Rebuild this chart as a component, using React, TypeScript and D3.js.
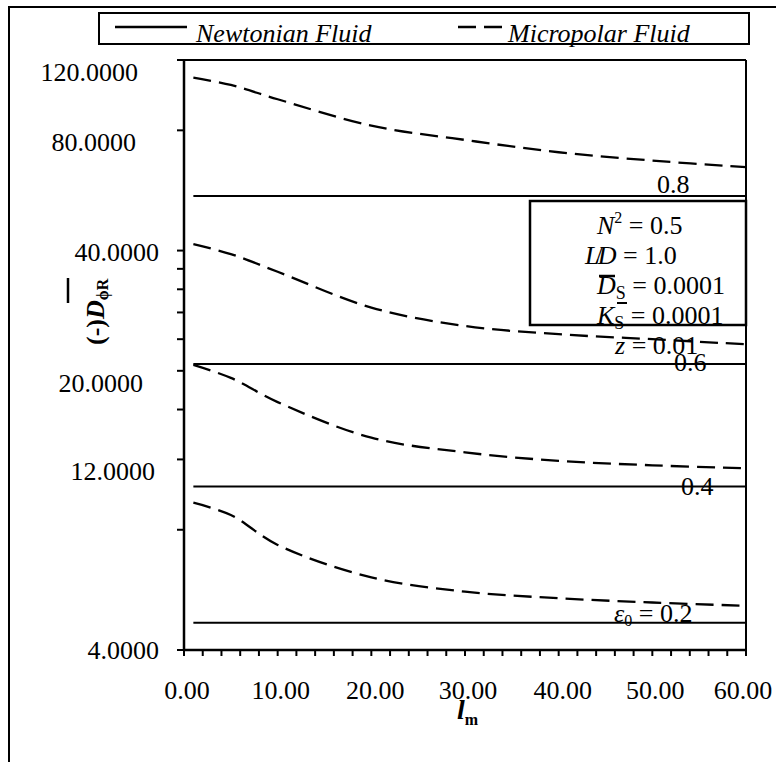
import React from "react";
import * as d3 from "d3";

// ---- data ----
const lm = [1, 5, 10, 20, 30, 40, 50, 60];
const eccentricities = [0.8, 0.6, 0.4, 0.2];
const newtonian = [54.8, 20.8, 10.26, 4.68];
const micropolar08 = [108.4, 103.9, 95.7, 82.2, 75.7, 70.5, 67.2, 64.7];
const micropolar06 = [41.5, 39.2, 35.4, 28.8, 25.9, 24.7, 24.0, 23.3];
const micropolar04 = [20.7, 19.2, 16.7, 13.6, 12.5, 11.9, 11.6, 11.4];
const micropolar02 = [9.35, 8.71, 7.33, 6.08, 5.6, 5.39, 5.26, 5.16];
const micropolar = [micropolar08, micropolar06, micropolar04, micropolar02];
const yTickValues = [4, 8, 12, 16, 20, 24, 28, 32, 36, 40, 80, 120];
const yLabelValues = [120, 80, 40, 20, 12, 4];
const xTickValues = d3.range(0, 61, 2);
const xLabelValues = [0, 10, 20, 30, 40, 50, 60];

// ---- layout / style ----
const W = 776;
const H = 762;
const L = 184, R = 746, T = 60, B = 650;
const FONT = '"Liberation Serif", "Times New Roman", Times, serif';
const FS = 26;
const SUB = 16;
// label nudges (right edge, vertical offset from tick)
const yLabelRight = [138, 136, 159, 143, 155, 159];
const yLabelDy = [12, 12, 1, 12, 12, 0];
const xLabelDx = [3, 3, 4, 3, 4, 3, -3];
const curveLabelPos = [
  { x: 657, dy: -3 },
  { x: 674, dy: 7 },
  { x: 681, dy: 8 },
  { x: 614, dy: -1 },
];

export default function App() {
  const x = d3.scaleLinear().domain([0, 60]).range([L, R]);
  const y = d3.scaleLog().domain([4, 120]).range([B, T]);
  const line = d3
    .line<number>()
    .x((_, i) => x(lm[i]))
    .y((d) => y(d))
    .curve(d3.curveCatmullRom.alpha(0.5));

  return (
    <svg
      width={W}
      height={H}
      style={{ position: "absolute", left: 0, top: 0, background: "#fff", fontFamily: FONT }}
    >
      <g style={{ fontFamily: FONT }}>
        <rect x={0} y={0} width={W} height={H} fill="#fff" />
        {/* outer frame */}
        <rect x={9} y={7} width={900} height={900} fill="none" stroke="#000" strokeWidth={2} />

        {/* legend */}
        <rect x={99} y={13} width={650} height={31} fill="#fff" stroke="#000" strokeWidth={2} />
        <line x1={115} x2={187} y1={27} y2={27} stroke="#000" strokeWidth={2.5} />
        <text x={196} y={42} fontSize={FS} fontStyle="italic">Newtonian Fluid</text>
        <line x1={458} x2={505} y1={27} y2={27} stroke="#000" strokeWidth={2.5} strokeDasharray="18 8" />
        <text x={508} y={42} fontSize={FS} fontStyle="italic">Micropolar Fluid</text>

        {/* newtonian lines */}
        {newtonian.map((v, i) => (
          <line key={"n" + i} x1={x(lm[0])} x2={x(lm[lm.length - 1])} y1={y(v)} y2={y(v)} stroke="#000" strokeWidth={2} />
        ))}
        {/* micropolar curves */}
        {micropolar.map((s, i) => (
          <path key={"m" + i} d={line(s) || ""} fill="none" stroke="#000" strokeWidth={2.3} strokeDasharray="18 8" />
        ))}

        {/* plot frame */}
        <line x1={L} x2={R} y1={T} y2={T} stroke="#000" strokeWidth={2} />
        <line x1={R} x2={R} y1={T} y2={B} stroke="#000" strokeWidth={2} />
        <line x1={L} x2={L} y1={T - 1} y2={B + 1} stroke="#000" strokeWidth={2.5} />
        <line x1={L - 1} x2={R + 1} y1={B} y2={B} stroke="#000" strokeWidth={2.5} />

        {/* y ticks */}
        {yTickValues.map((v) => (
          <line key={"yt" + v} x1={L - 7} x2={L} y1={y(v)} y2={y(v)} stroke="#000" strokeWidth={2} />
        ))}
        {yLabelValues.map((v, i) => (
          <text key={"yl" + v} x={yLabelRight[i]} y={y(v) + yLabelDy[i] + 9} fontSize={FS} textAnchor="end">
            {v.toFixed(4)}
          </text>
        ))}

        {/* x ticks */}
        {xTickValues.map((v) => (
          <line key={"xt" + v} x1={x(v)} x2={x(v)} y1={B} y2={B + 6} stroke="#000" strokeWidth={2} />
        ))}
        {xLabelValues.map((v, i) => (
          <text key={"xl" + v} x={x(v) + xLabelDx[i]} y={699} fontSize={FS} textAnchor="middle">
            {v.toFixed(2)}
          </text>
        ))}

        {/* x title */}
        <text x={457} y={719} fontSize={FS + 2} fontWeight="bold" fontStyle="italic">
          l
          <tspan fontSize={SUB} fontStyle="normal" dy={6}>m</tspan>
        </text>

        {/* y title */}
        <g transform="translate(104,345) rotate(-90)">
          <text x={0} y={0} fontSize={FS} fontWeight="bold">
            (-)<tspan fontStyle="italic">D</tspan>
            <tspan fontSize={SUB} dy={4}>ϕR</tspan>
          </text>
          <line x1={42} x2={67} y1={-36} y2={-36} stroke="#000" strokeWidth={2.5} />
        </g>

        {/* parameter box */}
        <rect x={530} y={201} width={R - 530} height={124} fill="#fff" stroke="#000" strokeWidth={2.5} />
        <g fontSize={FS} style={{ whiteSpace: "pre" }}>
          <text x={597} y={234}>
            <tspan fontStyle="italic">N</tspan>
            <tspan fontSize={SUB} dy={-11}>2</tspan>
            <tspan dy={11}>{" =  0.5"}</tspan>
          </text>
          <text x={585} y={264}>
            <tspan fontStyle="italic">L</tspan>
            <tspan dx={-4}>/</tspan>
            <tspan fontStyle="italic" dx={-5}>D</tspan>
            <tspan>{" =  1.0"}</tspan>
          </text>
          <text x={597} y={294}>
            <tspan fontStyle="italic">D</tspan>
            <tspan fontSize={18} dy={5}>S</tspan>
            <tspan dy={-5}>{" = 0.0001"}</tspan>
          </text>
          <line x1={599} x2={615} y1={276} y2={276} stroke="#000" strokeWidth={2.5} />
          <line x1={617} x2={627} y1={303} y2={303} stroke="#000" strokeWidth={2} />
          <text x={597} y={324}>
            <tspan fontStyle="italic">K</tspan>
            <tspan fontSize={18} dy={5}>S</tspan>
            <tspan dy={-5}>{" = 0.0001"}</tspan>
          </text>
          <text x={615} y={354}>
            <tspan fontStyle="italic">z</tspan>
            <tspan>{" = 0.01"}</tspan>
          </text>
        </g>

        {/* curve labels */}
        {eccentricities.map((e, i) => (
          <text key={"cl" + e} x={curveLabelPos[i].x} y={y(newtonian[i]) + curveLabelPos[i].dy} fontSize={FS} style={{ whiteSpace: "pre" }}>
            {i === eccentricities.length - 1 ? (
              <>
                <tspan fontStyle="italic">ε</tspan>
                <tspan fontSize={SUB} dy={4}>0</tspan>
                <tspan dy={-4}>{" = " + e.toFixed(1)}</tspan>
              </>
            ) : (
              e.toFixed(1)
            )}
          </text>
        ))}
      </g>
    </svg>
  );
}
